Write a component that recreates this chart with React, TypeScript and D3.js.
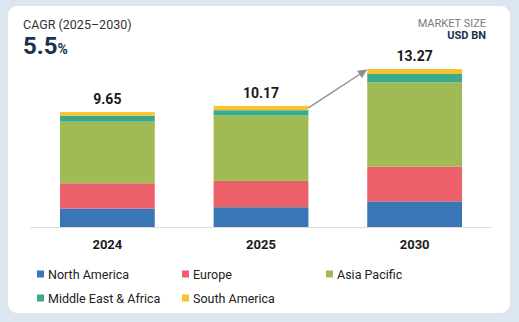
import React from "react";
import * as d3 from "d3";

const years = ["2024", "2025", "2030"];
const totals = [9.65, 10.17, 13.27];
const seriesNames = ["North America", "Europe", "Asia Pacific", "Middle East & Africa", "South America"];
const northAmerica = [1.55, 1.66, 2.15];
const europe = [2.12, 2.21, 2.93];
const asiaPacific = [5.18, 5.49, 7.07];
const middleEastAfrica = [0.48, 0.45, 0.7];
const southAmerica = [0.32, 0.36, 0.42];
const colors = ["#3a76b5", "#ec6069", "#a1bb54", "#3aa98e", "#f6c433"];

const W = 519;
const H = 322;
const FONT = "Roboto, 'Noto Sans', Arial, sans-serif";

export default function App() {
  const rows = years.map((y, i) => ({
    year: y,
    "North America": northAmerica[i],
    Europe: europe[i],
    "Asia Pacific": asiaPacific[i],
    "Middle East & Africa": middleEastAfrica[i],
    "South America": southAmerica[i],
  }));
  const stacked = d3.stack<any>().keys(seriesNames)(rows);
  const x = d3.scaleBand().domain(years).range([30, 492]).paddingInner(0.383).paddingOuter(0.195);
  const y = d3.scaleLinear().domain([0, 13.27]).range([227, 69]);

  const bw = x.bandwidth();
  const arrowStart = [(x("2025") as number) + bw, y(totals[1]) + 2];
  const arrowEnd = [(x("2030") as number) - 1, y(totals[2]) + 1];

  const legendPos = [
    [37, 274],
    [182, 274],
    [326, 274],
    [37, 298],
    [182, 298],
  ];

  return (
    <div style={{ position: "absolute", left: 0, top: 0 }}>
      <svg width={W} height={H} style={{ display: "block" }} fontFamily={FONT}>
        <defs>
          <marker id="ah" viewBox="0 0 10 10" refX="9" refY="5" markerWidth="7" markerHeight="7" orient="auto">
            <path d="M0,0 L10,5 L0,10 z" fill="#8e8e8e" />
          </marker>
        </defs>
        <rect x={0} y={0} width={W} height={H} fill="#dbe6f1" />
        <rect x={8} y={6} width={502} height={307} rx={9} fill="#ffffff" />

        <text x={23} y={28.5} fontSize={12.5} fill="#333">CAGR (2025–2030)</text>
        <text x={23} y={53.5} fontSize={24} fontWeight={700} fill="#1c3250">
          5.5<tspan fontSize={14} fontWeight={700}>%</tspan>
        </text>
        <text x={486} y={27} fontSize={11} fill="#7a7a7a" textAnchor="end">MARKET SIZE</text>
        <text x={486} y={39} fontSize={11} fontWeight={700} fill="#1c3250" textAnchor="end">USD BN</text>

        <line x1={30} x2={492} y1={227.5} y2={227.5} stroke="#dddddd" strokeWidth={1} />

        {stacked.map((s, si) => (
          <g key={s.key} fill={colors[si]}>
            {s.map((d, i) => (
              <rect
                key={i}
                x={x(years[i]) as number}
                y={y(d[1])}
                width={bw}
                height={y(d[0]) - y(d[1])}
              />
            ))}
          </g>
        ))}

        {years.map((yr, i) => (
          <text
            key={"t" + yr}
            x={(x(yr) as number) + bw / 2}
            y={y(totals[i]) - 8}
            fontSize={14}
            fontWeight={700}
            fill="#1a1a1a"
            textAnchor="middle"
          >
            {totals[i].toFixed(2)}
          </text>
        ))}

        {years.map((yr) => (
          <text
            key={"x" + yr}
            x={(x(yr) as number) + bw / 2}
            y={249}
            fontSize={13}
            fontWeight={700}
            fill="#1a1a1a"
            textAnchor="middle"
          >
            {yr}
          </text>
        ))}

        <line
          x1={arrowStart[0]}
          y1={arrowStart[1]}
          x2={arrowEnd[0]}
          y2={arrowEnd[1]}
          stroke="#8e8e8e"
          strokeWidth={1.3}
          markerEnd="url(#ah)"
        />

        {seriesNames.map((n, i) => (
          <g key={n}>
            <rect x={legendPos[i][0]} y={legendPos[i][1] - 3.5} width={7} height={7} fill={colors[i]} />
            <text x={legendPos[i][0] + 11} y={legendPos[i][1] + 4.5} fontSize={12.5} fill="#222">
              {n}
            </text>
          </g>
        ))}
      </svg>
    </div>
  );
}
